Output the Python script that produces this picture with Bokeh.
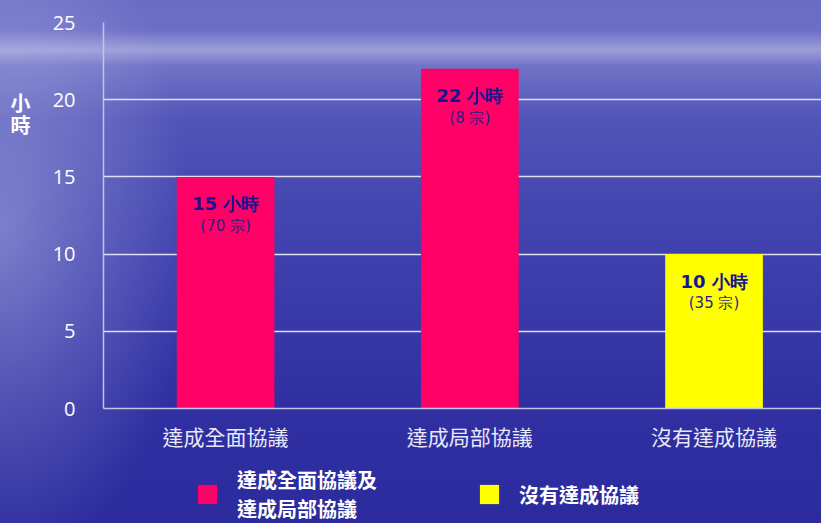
from bokeh.plotting import figure
from bokeh.layouts import column, row
from bokeh.models import ColumnDataSource, FixedTicker, Label, Legend, LegendItem, Range1d
from bokeh.core.properties import value
from bokeh.embed import file_html
from bokeh.resources import INLINE

# ---- data ----
categories = ["達成全面協議", "達成局部協議", "沒有達成協議"]
hours = [15, 22, 10]
cases = [70, 8, 35]
bar_colors = ["#ff0066", "#ff0066", "#ffff00"]
y_ticks = [0, 5, 10, 15, 20, 25]
legend_labels = ["達成全面協議及\n達成局部協議", "沒有達成協議"]
y_unit = "小時"

xpos = [i + 0.5 for i in range(len(categories))]
src = ColumnDataSource(dict(
    x=xpos, hours=hours, color=bar_colors,
    t1=[f"{h} 小時" for h in hours],
    t2=[f"({c} 宗)" for c in cases],
))

CJK = "Noto Sans CJK TC"
TOP_H = 460


def bare(fig):
    fig.border_fill_color = None
    fig.background_fill_color = None
    fig.outline_line_color = None
    return fig


# ---- narrow figure holding the unit label ----
unit_fig = bare(figure(width=40, height=TOP_H, output_backend="svg", toolbar_location=None,
                       x_range=Range1d(0, 40), y_range=Range1d(0, TOP_H),
                       x_axis_type=None, y_axis_type=None, min_border=0))
unit_fig.grid.visible = False
for i, ch in enumerate(y_unit):
    unit_fig.add_layout(Label(x=20, y=TOP_H - 95 - 26 * i, text=ch, text_align="center",
                              text_baseline="middle", text_font=CJK, text_font_size="20px",
                              text_font_style="bold", text_color="#ffffff"))

# ---- main chart ----
p = bare(figure(width=781, height=TOP_H, output_backend="svg", toolbar_location=None,
                x_range=Range1d(0, 2.94), y_range=Range1d(0, 25),
                min_border_left=63, min_border_right=0, min_border_top=22,
                min_border_bottom=TOP_H - 408))
p.xgrid.grid_line_color = None
p.ygrid.grid_line_color = "#e0e0f4"
p.ygrid.grid_line_width = 1.3
p.yaxis.ticker = FixedTicker(ticks=y_ticks)
p.xaxis.ticker = FixedTicker(ticks=xpos)
p.xaxis.major_label_overrides = {x: c for x, c in zip(xpos, categories)}
for ax in (p.xaxis, p.yaxis):
    ax.axis_line_color = "#c4c4e2"
    ax.axis_line_width = 1.5
    ax.major_tick_line_color = None
    ax.minor_tick_line_color = None
p.yaxis.major_label_text_font = "Open Sans"
p.yaxis.major_label_text_font_size = "20px"
p.yaxis.major_label_text_color = "#ffffff"
p.yaxis.major_label_standoff = 22
p.xaxis.major_label_text_font = CJK
p.xaxis.major_label_text_font_size = "21px"
p.xaxis.major_label_text_color = "#e8e8f8"
p.xaxis.major_label_standoff = 6

p.vbar(x="x", top="hours", width=0.4, source=src, fill_color="color", line_color=None)
p.text(x="x", y="hours", text="t1", source=src, text_align="center",
       text_baseline="middle", y_offset=27, text_font=value("DejaVu Sans"),
       text_font_style="bold", text_font_size="18px", text_color="#16148e")
p.text(x="x", y="hours", text="t2", source=src, text_align="center",
       text_baseline="middle", y_offset=49, text_font=value("DejaVu Sans"),
       text_font_size="15px", text_color="#2e1e86")

# ---- legend strip ----
leg_fig = bare(figure(width=821, height=523 - TOP_H, output_backend="svg", toolbar_location=None,
                      x_range=Range1d(100, 101), y_range=Range1d(100, 101),
                      x_axis_type=None, y_axis_type=None, min_border=0))
leg_fig.grid.visible = False
leg_bars = leg_fig.vbar(x="x", top="hours", width=0, source=src, fill_color="color",
                        line_color=None)
legend = Legend(items=[LegendItem(label=legend_labels[0], renderers=[leg_bars], index=0),
                       LegendItem(label=legend_labels[1], renderers=[leg_bars], index=2)],
                orientation="horizontal", location=(195, 0), padding=0, margin=0, spacing=100,
                border_line_color=None, background_fill_alpha=0,
                glyph_width=24, glyph_height=24, label_standoff=18,
                label_text_font=CJK, label_text_font_size="20px", label_text_line_height=1.2,
                label_text_font_style="bold", label_text_color="#ffffff")
leg_fig.add_layout(legend, "center")

layout = column(row(unit_fig, p, spacing=0), leg_fig, spacing=0)
layout.styles = {
    "background": ("radial-gradient(ellipse 190px 340px at 0px 230px, rgba(205,208,242,0.42), rgba(205,208,242,0) 100%), "
                   "linear-gradient(180deg, #6a6cc4 0px, #6c6ec6 30px, #9c9ed8 50px, #7073c6 66px, "
                   "#5254b8 120px, #4446b0 210px, #3a3aaa 300px, #3030a2 400px, #2b2b9e 523px)"),
}

open("out.html", "w").write(file_html(layout, INLINE))
